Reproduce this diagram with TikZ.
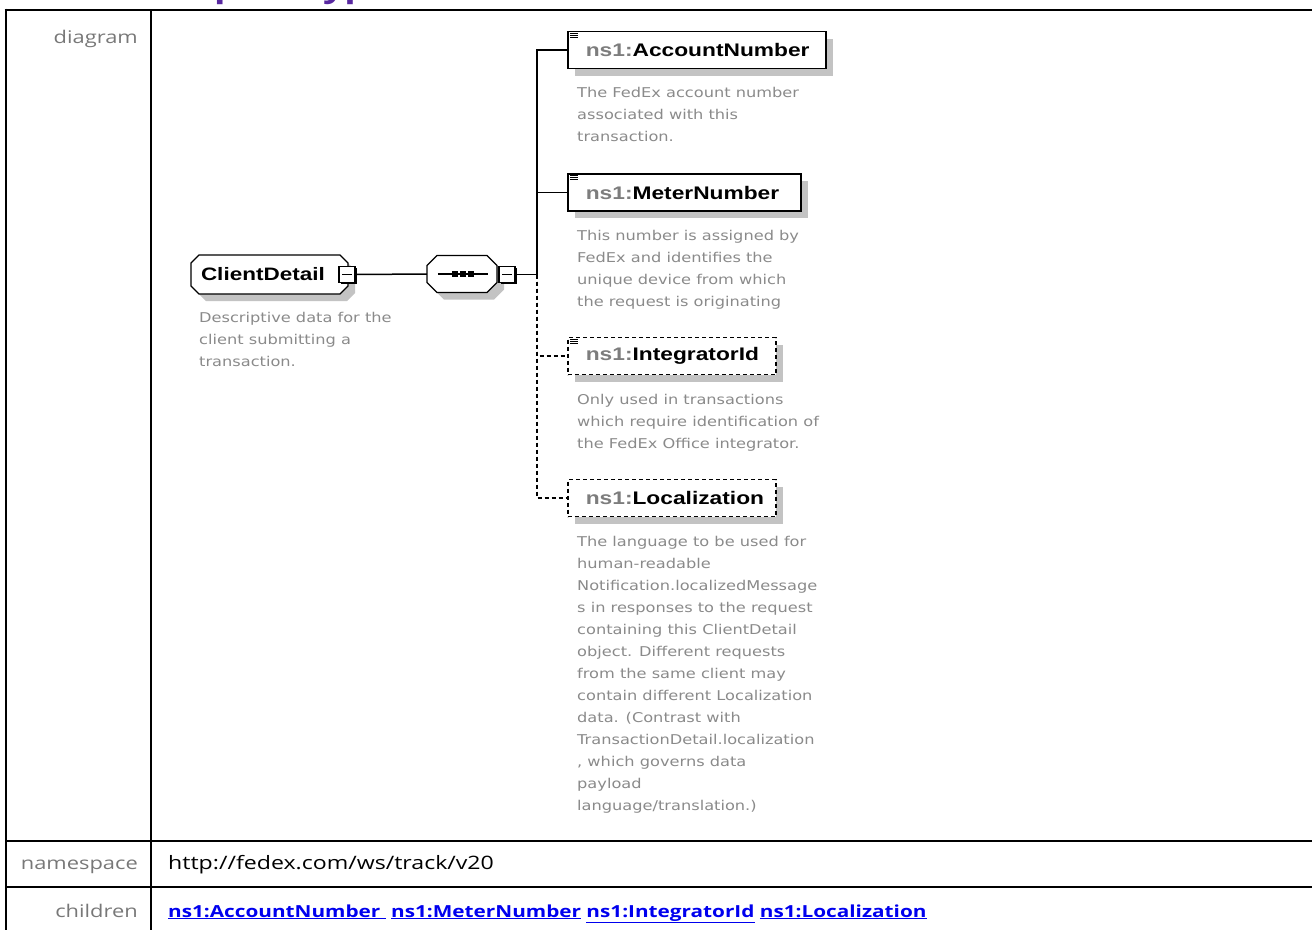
\documentclass[tikz,border=0pt]{standalone}
\usepackage{fontspec}
\newfontfamily\lblfont[FakeStretch=1.25]{Open Sans}
\newfontfamily\descfont[FakeStretch=1.2]{DejaVu Sans}
\newfontfamily\elemfont[FakeStretch=1.25]{Liberation Sans}
\usetikzlibrary{shadows}
\definecolor{lblgray}{RGB}{120,120,120}
\definecolor{descgray}{RGB}{138,138,138}
\definecolor{nsgray}{RGB}{125,125,125}
\definecolor{shadowgray}{RGB}{195,195,195}
\definecolor{linkblue}{RGB}{0,0,238}
\definecolor{titlepurple}{RGB}{88,40,160}
% octagon outline: centre x, centre y, width, height, cut
\newcommand\octpath[5]{({#1-#3/2+#5},{#2+#4/2}) -- ({#1+#3/2-#5},{#2+#4/2}) -- ({#1+#3/2},{#2+#4/2-#5})
  -- ({#1+#3/2},{#2-#4/2+#5}) -- ({#1+#3/2-#5},{#2-#4/2}) -- ({#1-#3/2+#5},{#2-#4/2})
  -- ({#1-#3/2},{#2-#4/2+#5}) -- ({#1-#3/2},{#2+#4/2-#5}) -- cycle}
\newcommand\docicon[1]{%
  \foreach \dy in {2.5,4.5,6.5}
    \draw[line width=0.8pt] ([xshift=3pt,yshift=-\dy pt]#1.north west) -- ++(8,0);}

\begin{document}
\begin{tikzpicture}[x=1pt,y=1pt]
    \tikzset{
        tbl/.style={line width=2.8pt},
        rowlabel/.style={anchor=base east,inner sep=0pt,text=lblgray,font=\lblfont\fontsize{17.5}{20}\selectfont},
        rowtext/.style={anchor=base west,inner sep=0pt,font=\lblfont\fontsize{18.5}{20}\selectfont},
        desc/.style={anchor=base west,inner sep=0pt,align=left,text=descgray,font=\descfont\fontsize{13.5}{22}\selectfont},
        elem/.style={draw,line width=1.6pt,fill=white,anchor=west,minimum height=37pt,inner xsep=18pt,inner ysep=0pt,
            align=left,font=\elemfont\bfseries\fontsize{18.2}{20}\selectfont,
            drop shadow={shadow xshift=7pt,shadow yshift=-7pt,fill=shadowgray,opacity=1}},
        optelem/.style={elem,dash pattern=on 4pt off 3pt},
        octshadow/.style={fill=shadowgray,shift={(7,-7)}},
        octline/.style={draw,line width=1.2pt,fill=white},
        ctype/.style={minimum height=39pt,inner xsep=10pt,inner ysep=0pt,align=left,
            font=\elemfont\bfseries\fontsize{18}{20}\selectfont},
        minusbox/.style={draw,line width=1.2pt,fill=white,minimum size=16pt,inner sep=0pt,
            drop shadow={shadow xshift=1.8pt,shadow yshift=-1.8pt,fill=black,opacity=1},
            path picture={\draw[line width=1pt] ([xshift=3pt]path picture bounding box.west) -- ([xshift=-3pt]path picture bounding box.east);}},
        link/.style={line width=1.5pt},
        optlink/.style={link,dash pattern=on 4pt off 3pt}
    }
    \useasboundingbox (0,0) rectangle (1312,-930);

    % heading, mostly above the page
    \node[anchor=base west,inner sep=0pt,text=titlepurple,font=\lblfont\bfseries\fontsize{30}{36}\selectfont] (title) at (130,3) {Complex Type ClientDetail};

    % table
    \draw[tbl] (4.6,-10) -- (1312,-10);
    \draw[tbl] (6,-8.6) -- (6,-930);
    \draw[tbl] (151,-10) -- (151,-930);
    \draw[tbl] (6,-841) -- (1312,-841);
    \draw[tbl] (6,-887) -- (1312,-887);

    \node[rowlabel] (lbldiagram) at (138,-43) {diagram};
    \node[rowlabel] (lblnamespace) at (138,-869) {namespace};
    \node[rowlabel] (lblchildren) at (138,-917) {children};
    \node[rowtext] (nsvalue) at (168,-869) {http://fedex.com/ws/track/v20};
    \node[rowtext,text=linkblue,font=\lblfont\bfseries\fontsize{16.6}{19}\selectfont] (childlinks) at (168,-917)
        {\underline{ns1:AccountNumber\ }\ \underline{ns1:MeterNumber}\ \underline{ns1:IntegratorId}\ \underline{ns1:Localization}};

    % complex type and its sequence
    \fill[octshadow] \octpath{269.5}{-274.5}{157}{39}{8};
    \draw[octline] \octpath{269.5}{-274.5}{157}{39}{8};
    \node[ctype,text width=137pt] (client) at (269.5,-274.5) {ClientDetail};
    \node[minusbox] (clientminus) at (347,-274.5) {};
    \node[desc] (clientdesc) at (199,-366) {Descriptive data for the\\client submitting a\\transaction.};

    \fill[octshadow] \octpath{462}{-274}{70}{37}{10};
    \draw[octline] \octpath{462}{-274}{70}{37}{10};
    \node[minimum width=70pt,minimum height=37pt,inner sep=0pt] (seq) at (462,-274) {};
    \draw[line width=1.5pt] ([xshift=11pt]seq.west) -- ([xshift=-9pt]seq.east);
    \foreach \dx in {-7,1,9}
        \fill ([xshift=\dx pt]seq.center) +(-3,-3) rectangle +(3,3);
    \node[minusbox] (seqminus) at (507,-274.5) {};
    \coordinate (trunk) at (537,-274.5);

    % child elements
    \node[elem,text width=222pt] (account) at (567,-50) {{\color{nsgray}ns1:}AccountNumber};
    \docicon{account}
    \node[desc] (accountdesc) at (577,-141) {The FedEx account number\\associated with this\\transaction.};

    \node[elem,text width=197pt] (meter) at (567,-192.5) {{\color{nsgray}ns1:}MeterNumber};
    \docicon{meter}
    \node[desc] (meterdesc) at (577,-306) {This number is assigned by\\FedEx and identifies the\\unique device from which\\the request is originating};

    \node[optelem,text width=172pt] (integrator) at (567,-356) {{\color{nsgray}ns1:}IntegratorId};
    \docicon{integrator}
    \node[desc] (integratordesc) at (577,-448) {Only used in transactions\\which require identification of\\the FedEx Office integrator.};

    \node[optelem,text width=172pt] (local) at (567,-498) {{\color{nsgray}ns1:}Localization};
    \node[desc] (localdesc) at (577,-810) {The language to be used for\\human-readable\\Notification.localizedMessage\\s in responses to the request\\containing this ClientDetail\\object. Different requests\\from the same client may\\contain different Localization\\data. (Contrast with\\TransactionDetail.localization\\, which governs data\\payload\\language/translation.)};

    % connectors
    \draw[link] (clientminus.east) -- (seq.west);
    \draw[link] (seqminus.east) -- (trunk);
    \draw[link] (trunk) |- (account.west);
    \draw[link] (trunk) |- (meter.west);
    \draw[optlink] (trunk) |- (integrator.west);
    \draw[optlink] (trunk) |- (local.west);
\end{tikzpicture}
\end{document}
